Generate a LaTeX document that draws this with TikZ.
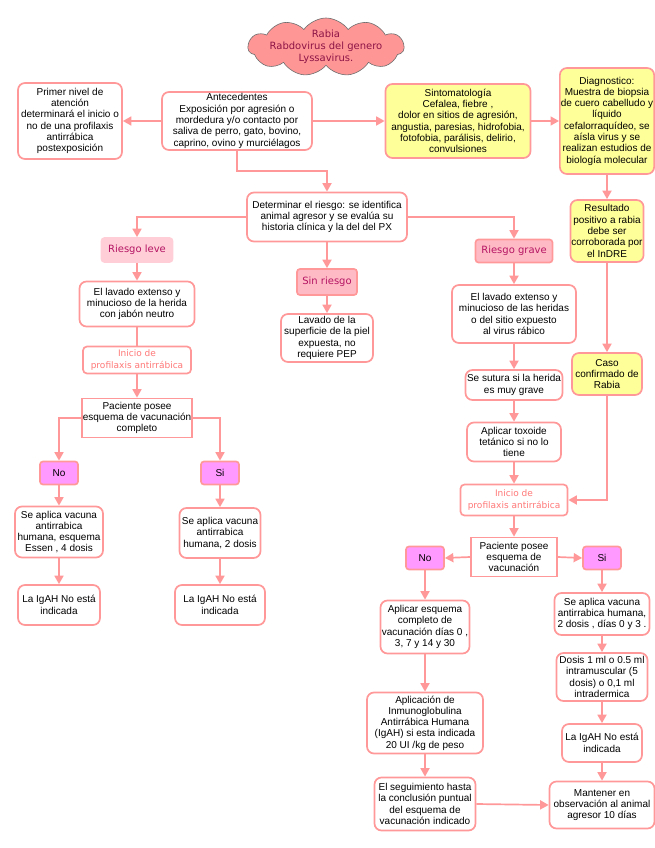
\documentclass[tikz,border=0pt]{standalone}
\usepackage{fontspec}
\setmainfont{Liberation Sans}
\newfontfamily\verdfont{DejaVu Sans}
\usetikzlibrary{arrows.meta,shapes.symbols}

\definecolor{pinkline}{RGB}{255,153,153}
\definecolor{yellowfill}{RGB}{255,255,153}
\definecolor{cloudfill}{RGB}{255,150,150}
\definecolor{cloudline}{RGB}{110,110,110}
\definecolor{cloudtext}{RGB}{140,20,70}
\definecolor{risktext}{RGB}{180,20,100}
\definecolor{riskfill}{RGB}{255,187,197}
\definecolor{riskleve}{RGB}{255,206,214}
\definecolor{ynfill}{RGB}{255,153,255}
\definecolor{initext}{RGB}{255,120,120}

\tikzset{
	box/.style={draw=pinkline, line width=1.7pt, rounded corners=7pt, fill=white, align=center, inner sep=1pt, font=\fontsize{10}{11.3}\selectfont},
	ybox/.style={box, fill=yellowfill},
	sqbox/.style={box, rounded corners=0pt},
	inibox/.style={box, rounded corners=4pt, text=initext, font=\verdfont\fontsize{9}{11.7}\selectfont},
	riskbox/.style={box, rounded corners=3pt, fill=riskfill, text=risktext, font=\verdfont\fontsize{10}{12}\selectfont},
	ynbox/.style={box, rounded corners=3pt, fill=ynfill, minimum width=38, minimum height=23},
	arr/.style={draw=pinkline, line width=1.7pt, -{Triangle[length=8.5pt,width=9pt]}},
	lin/.style={draw=pinkline, line width=1.7pt},
}

\begin{document}
\begin{tikzpicture}[x=1pt, y=-1pt]
		%%%%% START %%%%%
		\useasboundingbox (0,0) rectangle (655,848);
		
		\node[cloud, cloud puffs=11, cloud puff arc=110, aspect=2.7, draw=cloudline, line width=0.6pt, fill=cloudfill, minimum width=156, minimum height=58, inner sep=0pt] (rabia) at (326,47) {};
		\node[align=center, text=cloudtext, font=\verdfont\fontsize{10}{12}\selectfont] (rabiatxt) at (rabia.center) {Rabia\\Rabdovirus del genero\\Lyssavirus.};
		
		%% fila superior
		\node[box, minimum width=104, minimum height=76] (primer) at (70,121) {Primer nivel de\\atención\\determinará el inicio o\\no de una profilaxis\\antirrábica\\postexposición};
		\node[box, minimum width=150, minimum height=58] (antec) at (237,121) {Antecedentes\\Exposición por agresión o\\mordedura y/o contacto por\\saliva de perro, gato, bovino,\\caprino, ovino y murciélagos};
		\node[ybox, minimum width=145, minimum height=74] (sinto) at (458,121) {Sintomatología\\Cefalea, fiebre ,\\dolor en sitios de agresión,\\angustia, paresias, hidrofobia,\\fotofobia, parálisis, delirio,\\convulsiones};
		\node[ybox, minimum width=94, minimum height=106] (diag) at (607,121) {Diagnostico:\\Muestra de biopsia\\de cuero cabelludo y\\líquido\\cefalorraquídeo, se\\aísla virus y se\\realizan estudios de\\biología molecular};
		
		\draw[arr] (antec.west) -- (primer.east);
		\draw[arr] (antec.east) -- (sinto.west);
		\draw[arr] (sinto.east) -- (diag.west);
		
		%% riesgo
		\node[box, minimum width=160, minimum height=49] (determ) at (327,217) {Determinar el riesgo: se identifica\\animal agresor y se evalúa su\\historia clínica y la del del PX};
		\coordinate (codo) at (237,171);
		\draw[arr] (antec.south) -- (codo) -| (determ.north);
		
		\node[riskbox, draw=riskleve, fill=riskleve, minimum width=71, minimum height=24] (leve) at (137,250) {Riesgo leve};
		\node[riskbox, minimum width=60, minimum height=26] (sinr) at (327,282) {Sin riesgo};
		\node[riskbox, minimum width=77, minimum height=23] (grave) at (514,251) {Riesgo grave};
		
		\draw[arr] (determ.west) -| (leve.north);
		\draw[arr] (determ.south) -- (sinr.north);
		\draw[arr] (determ.east) -| (grave.north);
		
		%% columna diagnostico
		\node[ybox, minimum width=68, minimum height=62] (resul) at (607,231) {Resultado\\positivo a rabia\\debe ser\\corroborada por\\el InDRE};
		\node[ybox, minimum width=70, minimum height=42] (caso) at (607,374) {Caso\\confirmado de\\Rabia};
		\draw[arr] (diag.south) -- (resul.north);
		\draw[arr] (resul.south) -- (caso.north);
		
		%% riesgo leve
		\node[box, minimum width=115, minimum height=45] (lavleve) at (137,304) {El lavado extenso y\\minucioso de la herida\\con jabón neutro};
		\node[inibox, minimum width=108, minimum height=27] (inileve) at (137,360) {Inicio de\\profilaxis antirrábica};
		\node[sqbox, minimum width=107, minimum height=39] (pacleve) at (137,418) {Paciente posee\\esquema de vacunación\\completo};
		\node[ynbox] (noleve) at (59,473) {No};
		\node[ynbox] (sileve) at (220,473) {Si};
		\node[box, minimum width=88, minimum height=51] (vacleve1) at (59,532) {Se aplica vacuna\\antirrabica\\humana, esquema\\Essen , 4 dosis};
		\node[box, minimum width=81, minimum height=50] (vacleve2) at (220,533) {Se aplica vacuna\\antirrabica\\humana, 2 dosis};
		\node[box, minimum width=82, minimum height=40] (igleve1) at (59,605) {La IgAH No está\\indicada};
		\node[box, minimum width=90, minimum height=40] (igleve2) at (220,605) {La IgAH No está\\indicada};
		
		\draw[arr] (leve.south) -- (lavleve.north);
		\draw[lin] (lavleve.south) -- (inileve.north);
		\draw[arr] (inileve.south) -- (pacleve.north);
		\draw[arr] (pacleve.west) -| (noleve.north);
		\draw[arr] (pacleve.east) -| (sileve.north);
		\draw[arr] (noleve.south) -- (vacleve1.north);
		\draw[arr] (vacleve1.south) -- (igleve1.north);
		\draw[arr] (sileve.south) -- (vacleve2.north);
		\draw[arr] (vacleve2.south) -- (igleve2.north);
		
		%% sin riesgo
		\node[box, minimum width=92, minimum height=48] (lavsup) at (327,338) {Lavado de la\\superficie de la piel\\expuesta, no\\requiere PEP};
		\draw[arr] (sinr.south) -- (lavsup.north);
		
		%% riesgo grave
		\node[box, minimum width=124, minimum height=58] (lavgrave) at (514,314) {El lavado extenso y\\minucioso de las heridas\\o del sitio expuesto\\al virus rábico};
		\node[box, minimum width=97, minimum height=30] (sutura) at (514,385) {Se sutura si la herida\\es muy grave};
		\node[box, minimum width=94, minimum height=39] (toxo) at (514,442) {Aplicar toxoide\\tetánico si no lo\\tiene};
		\node[inibox, minimum width=107, minimum height=31] (inigrave) at (514,500) {Inicio de\\profilaxis antirrábica};
		\node[sqbox, minimum width=86, minimum height=39] (pacgrave) at (514,557) {Paciente posee\\esquema de\\vacunación};
		\node[ynbox] (nograve) at (425,558) {No};
		\node[ynbox] (sigrave) at (602,558) {Si};
		
		\draw[arr] (grave.south) -- (lavgrave.north);
		\draw[arr] (lavgrave.south) -- (sutura.north);
		\draw[arr] (sutura.south) -- (toxo.north);
		\draw[arr] (toxo.south) -- (inigrave.north);
		\draw[arr] (caso.south) |- (inigrave.east);
		\draw[arr] (inigrave.south) -- (pacgrave.north);
		\draw[arr] (pacgrave.west) -- (nograve.east);
		\draw[arr] (pacgrave.east) -- (sigrave.west);
		
		\node[box, minimum width=89, minimum height=53] (esquema) at (425,627) {Aplicar esquema\\completo de\\vacunación días 0 ,\\3, 7 y 14 y 30};
		\node[box, minimum width=116, minimum height=61] (inmuno) at (425,723) {Aplicación de\\Inmunoglobulina\\Antirrábica Humana\\(IgAH) si esta indicada\\20 UI /kg de peso};
		\node[box, minimum width=101, minimum height=53] (segui) at (425,804) {El seguimiento hasta\\la conclusión puntual\\del esquema de\\vacunación indicado};
		
		\draw[arr] (nograve.south) -- (esquema.north);
		\draw[arr] (esquema.south) -- (inmuno.north);
		\draw[arr] (inmuno.south) -- (segui.north);
		
		\node[box, minimum width=95, minimum height=42] (vacgrave) at (602,614) {Se aplica vacuna\\antirrabica humana,\\2 dosis , días 0 y 3 .};
		\node[box, minimum width=91, minimum height=48] (dosis) at (602,677) {Dosis 1 ml o 0.5 ml\\intramuscular (5\\dosis) o 0,1 ml\\intradermica};
		\node[box, minimum width=80, minimum height=38] (igrave) at (602,743) {La IgAH No está\\indicada};
		\node[box, minimum width=105, minimum height=47] (mant) at (602,805) {Mantener en\\observación al animal\\agresor 10 días};
		
		\draw[arr] (sigrave.south) -- (vacgrave.north);
		\draw[arr] (vacgrave.south) -- (dosis.north);
		\draw[arr] (dosis.south) -- (igrave.north);
		\draw[arr] (igrave.south) -- (mant.north);
		\draw[arr] (segui.east) -- (mant.west);
		
		%%%%% END %%%%%
\end{tikzpicture}
\end{document}
